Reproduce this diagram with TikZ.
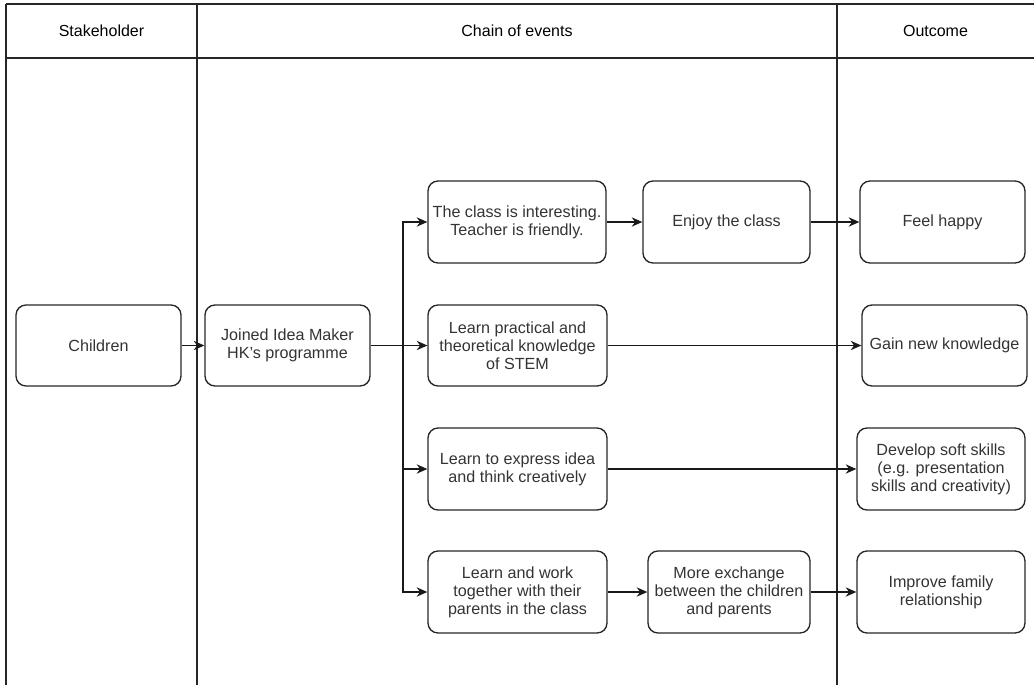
\documentclass[tikz,border=0pt]{standalone}
\usepackage{fontspec}
\setmainfont{Liberation Sans}
\usetikzlibrary{arrows.meta}
\begin{document}
\begin{tikzpicture}[x=0.75pt,y=-0.75pt,
  grid/.style={line width=1.3pt,draw=black!85},
  box/.style={draw=black!85,line width=1pt,rounded corners=7.5pt,align=center,
    font=\fontsize{12.1pt}{13.6pt}\selectfont,text=black!80,inner sep=1pt},
  hdr/.style={font=\fontsize{12pt}{13.5pt}\selectfont,text=black},
  arr/.style={draw=black!90,line width=1pt,-{Stealth[length=8pt,width=7pt]}},
  ln/.style={draw=black!90,line width=1pt}]
\useasboundingbox (0,0) rectangle (1034,685);
% table
\draw[grid] (6,4) -- (1034,4);
\draw[grid] (6,58) -- (1034,58);
\draw[grid] (6,4) -- (6,685);
\draw[grid] (197,4) -- (197,685);
\draw[grid] (837,4) -- (837,685);
\node[hdr] (h1) at (101.5,31) {Stakeholder};
\node[hdr] (h2) at (517,31) {Chain of events};
\node[hdr] (h3) at (935.5,31) {Outcome};
% nodes
\node[box,minimum width=123.75pt,minimum height=60.75pt] (ch) at (98.5,345.5) {Children};
\node[box,minimum width=123.75pt,minimum height=60.75pt] (jn) at (287.5,345.5) {Joined Idea Maker\\HK's programme};
\node[box,minimum width=133.5pt,minimum height=61.5pt] (a1) at (517,222) {The class is interesting.\\Teacher is friendly.};
\node[box,minimum width=125.25pt,minimum height=61.5pt] (a2) at (726.5,222) {Enjoy the class};
\node[box,minimum width=123.75pt,minimum height=61.5pt] (a3) at (942.5,222) {Feel happy};
\node[box,minimum width=134.25pt,minimum height=60.75pt] (b1) at (517.5,345.5) {Learn practical and\\theoretical knowledge\\of STEM};
\node[box,minimum width=123.75pt,minimum height=60.75pt] (b3) at (944.5,345.5) {Gain new knowledge};
\node[box,minimum width=134.25pt,minimum height=61.5pt] (c1) at (517.5,469) {Learn to express idea\\and think creatively};
\node[box,minimum width=126pt,minimum height=61.5pt] (c3) at (941,469) {Develop soft skills\\(e.g. presentation\\skills and creativity)};
\node[box,minimum width=134.25pt,minimum height=61.5pt] (d1) at (517.5,592) {Learn and work\\together with their\\parents in the class};
\node[box,minimum width=121.5pt,minimum height=61.5pt] (d2) at (729,592) {More exchange\\between the children\\and parents};
\node[box,minimum width=126pt,minimum height=61.5pt] (d3) at (941,592) {Improve family\\relationship};
\coordinate (br) at (403,345.5);
% connectors
\draw[arr] (ch) -- (jn);
\draw[ln] (jn.east) -- (br);
\draw[arr] (br) |- (a1.west);
\draw[arr] (br) -- (b1.west);
\draw[arr] (br) |- (c1.west);
\draw[arr] (br) |- (d1.west);
\draw[arr] (a1) -- (a2);
\draw[arr] (a2) -- (a3);
\draw[arr] (b1) -- (b3);
\draw[arr] (c1) -- (c3);
\draw[arr] (d1) -- (d2);
\draw[arr] (d2) -- (d3);
\end{tikzpicture}
\end{document}
